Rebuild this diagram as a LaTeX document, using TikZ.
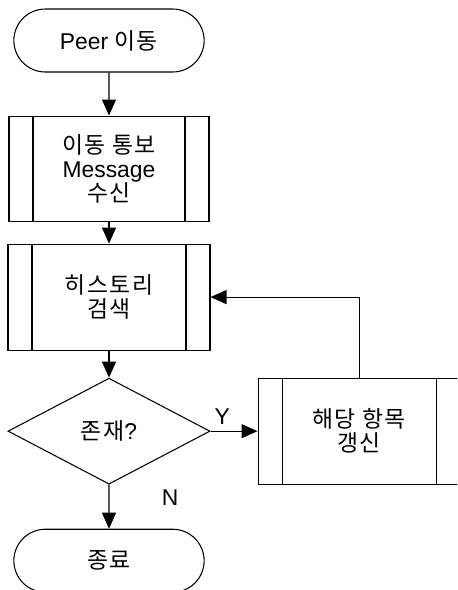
\documentclass[tikz,border=0pt]{standalone}
\usepackage{fontspec}
\setmainfont{Liberation Sans}
\newfontfamily\kr[LetterSpace=6]{Noto Sans CJK KR}
\usetikzlibrary{shapes.geometric,shapes.misc,arrows.meta,positioning}

\begin{document}
\begin{tikzpicture}[
  font=\fontsize{13}{13.7}\selectfont, >={Triangle[length=0.32cm, width=0.28cm]},
  terminal/.style={rounded rectangle, draw, line width=0.6pt,
    minimum width=4.04cm, minimum height=1.26cm},
  predef/.style={rectangle, draw, line width=0.6pt, align=center,
    minimum width=4.0cm, minimum height=2.1cm,
    path picture={
      \draw[line width=0.6pt]
        ([xshift=0.48cm]path picture bounding box.north west) --
        ([xshift=0.48cm]path picture bounding box.south west);
      \draw[line width=0.6pt]
        ([xshift=-0.48cm]path picture bounding box.north east) --
        ([xshift=-0.48cm]path picture bounding box.south east);}},
  decision/.style={diamond, draw, line width=0.6pt, inner sep=0pt,
    minimum width=4.04cm, minimum height=2.12cm},
  arr/.style={->, line width=0.6pt},
]
\clip (-2.18,0.81) rectangle (6.96,-10.99);

\node[terminal] (start) at (0,0) {Peer {\kr 이동}};

\node[predef, below=0.86cm of start] (recv)
  {{\kr 이동 통보}\\Message\\{\kr 수신}};

\node[predef, minimum width=4.04cm, minimum height=2.12cm,
      below=0.44cm of recv] (search)
  {{\kr 히스토리}\\{\kr 검색}};

\node[decision, below=0.54cm of search] (exist) {{\kr 존재}?};

% Y branch (right)
\node[predef, minimum width=4.04cm, minimum height=2.12cm,
      right=0.94cm of exist] (update)
  {{\kr 해당 항목}\\{\kr 갱신}};

% N branch (down)
\node[terminal, below=0.88cm of exist] (finish) {\kr 종료};

% Arrows
\draw[arr] (start)  -- (recv);
\draw[arr] (recv)   -- (search);
\draw[arr] (search) -- (exist);
\draw[arr] (exist)  -- node[above, pos=0.25]{Y} (update);
\draw[arr] (exist)  -- node[pos=0.3, xshift=1.22cm]{N} (finish);
\draw[arr] (update.north) |- (search.east);

\end{tikzpicture}
\end{document}
